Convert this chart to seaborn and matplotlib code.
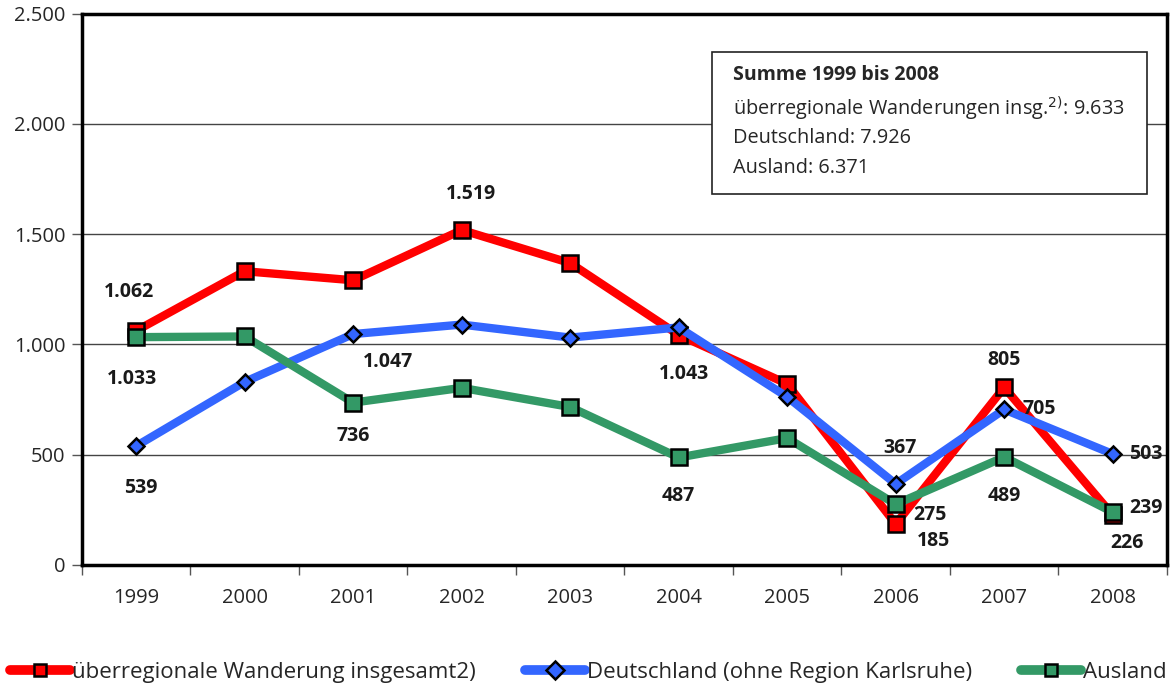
import pandas as pd
import matplotlib.pyplot as plt
import seaborn as sns

# data
years = ['1999', '2000', '2001', '2002', '2003', '2004', '2005', '2006', '2007', '2008']
gesamt = [1062, 1332, 1291, 1519, 1369, 1043, 821, 185, 805, 226]
deutschland = [539, 830, 1047, 1090, 1031, 1077, 762, 367, 705, 503]
ausland = [1033, 1036, 736, 803, 716, 487, 575, 275, 489, 239]

names = ['überregionale Wanderung insgesamt2)',
         'Deutschland (ohne Region Karlsruhe)',
         'Ausland']

# point labels shown in the chart: (series, year index, dx, dy in points)
labels = [
    (0, 0, -5, 28), (2, 0, -3, -30), (1, 0, 3, -30),
    (1, 2, 25, -20), (2, 2, 0, -24),
    (0, 3, 7, 26), (0, 5, 4, -28), (2, 5, 0, -28),
    (1, 7, 3, 26), (2, 7, 25, -8), (0, 7, 27, -12),
    (0, 8, 0, 20), (1, 8, 25, 0), (2, 8, 0, -28),
    (1, 9, 24, 0), (2, 9, 24, 3), (0, 9, 10, -20),
]


def fmt(v):
    return f"{v:,}".replace(',', '.')


def main():
    sns.set_style('white')
    plt.rcParams['font.family'] = ['Open Sans', 'DejaVu Sans']

    fig = plt.figure(figsize=(11.74, 6.88), dpi=100)
    ax = fig.add_axes([0.0698, 0.179, 0.9242, 0.801])

    x = list(range(len(years)))
    series = [gesamt, deutschland, ausland]
    colors = ['#ff0000', '#3366ff', '#339966']
    markers = ['s', 'D', 's']
    msizes = [11, 8, 11]

    for vals, name, c, m, ms in zip(series, names, colors, markers, msizes):
        df = pd.DataFrame({'x': x, 'y': vals})
        sns.lineplot(data=df, x='x', y='y', ax=ax, color=c, linewidth=6,
                     marker=m, markersize=ms, markeredgecolor='black',
                     markeredgewidth=1.8, label=name, zorder=3)

    # point labels
    for s, i, dx, dy in labels:
        v = series[s][i]
        ax.annotate(fmt(v), (i, v), xytext=(dx, dy), textcoords='offset points',
                    ha='center', va='center', fontsize=14, fontweight='bold',
                    color='#1a1a1a', zorder=5)

    ax.set_xlim(-0.5, 9.5)
    ax.set_ylim(0, 2500)
    yt = [0, 500, 1000, 1500, 2000, 2500]
    ax.set_yticks(yt)
    ax.set_yticklabels([fmt(v) for v in yt], fontsize=14.5)
    ax.set_xticks(x)
    ax.set_xticklabels(years, fontsize=14.5)
    ax.set_xticks([i - 0.5 for i in range(11)], minor=True)
    ax.tick_params(axis='x', which='major', length=0, pad=17)
    ax.tick_params(axis='x', which='minor', length=7, width=1, color='#555555', bottom=True)
    ax.tick_params(axis='y', length=7, width=1, color='#555555', left=True, pad=5)
    ax.set_xlabel('')
    ax.set_ylabel('')

    ax.grid(axis='y', color='#444444', linewidth=1)
    ax.set_axisbelow(True)
    for side in ['left', 'bottom', 'right', 'top']:
        ax.spines[side].set_visible(True)
        ax.spines[side].set_color('black')
        ax.spines[side].set_linewidth(2.5)

    # summary box
    tx = 0.600
    ax.text(tx, 0.889, 'Summe 1999 bis 2008', transform=ax.transAxes,
            fontsize=14, fontweight='bold', va='center', zorder=6)
    ax.text(tx, 0.828, 'überregionale Wanderungen insg.$^{2)}$: 9.633',
            transform=ax.transAxes, fontsize=14.3, va='center', zorder=6)
    ax.text(tx, 0.775, 'Deutschland: 7.926', transform=ax.transAxes,
            fontsize=14.3, va='center', zorder=6)
    ax.text(tx, 0.7205, 'Ausland: 6.371', transform=ax.transAxes,
            fontsize=14.3, va='center', zorder=6)
    box = plt.Rectangle((0.581, 0.673), 0.4006, 0.258, transform=ax.transAxes,
                        facecolor='white', edgecolor='#222222', linewidth=1.2, zorder=5)
    ax.add_patch(box)

    leg = ax.legend(loc='center left', bbox_to_anchor=(-0.0664, -0.195), ncol=3,
                    frameon=False, fontsize=16, handlelength=2.7, handletextpad=0.1,
                    columnspacing=2.2, borderaxespad=0, borderpad=0)
    for h in leg.legend_handles:
        h.set_linewidth(7)
        h.set_markersize(9)

    fig.savefig('out.png', dpi=100)


if __name__ == "__main__":
    main()
